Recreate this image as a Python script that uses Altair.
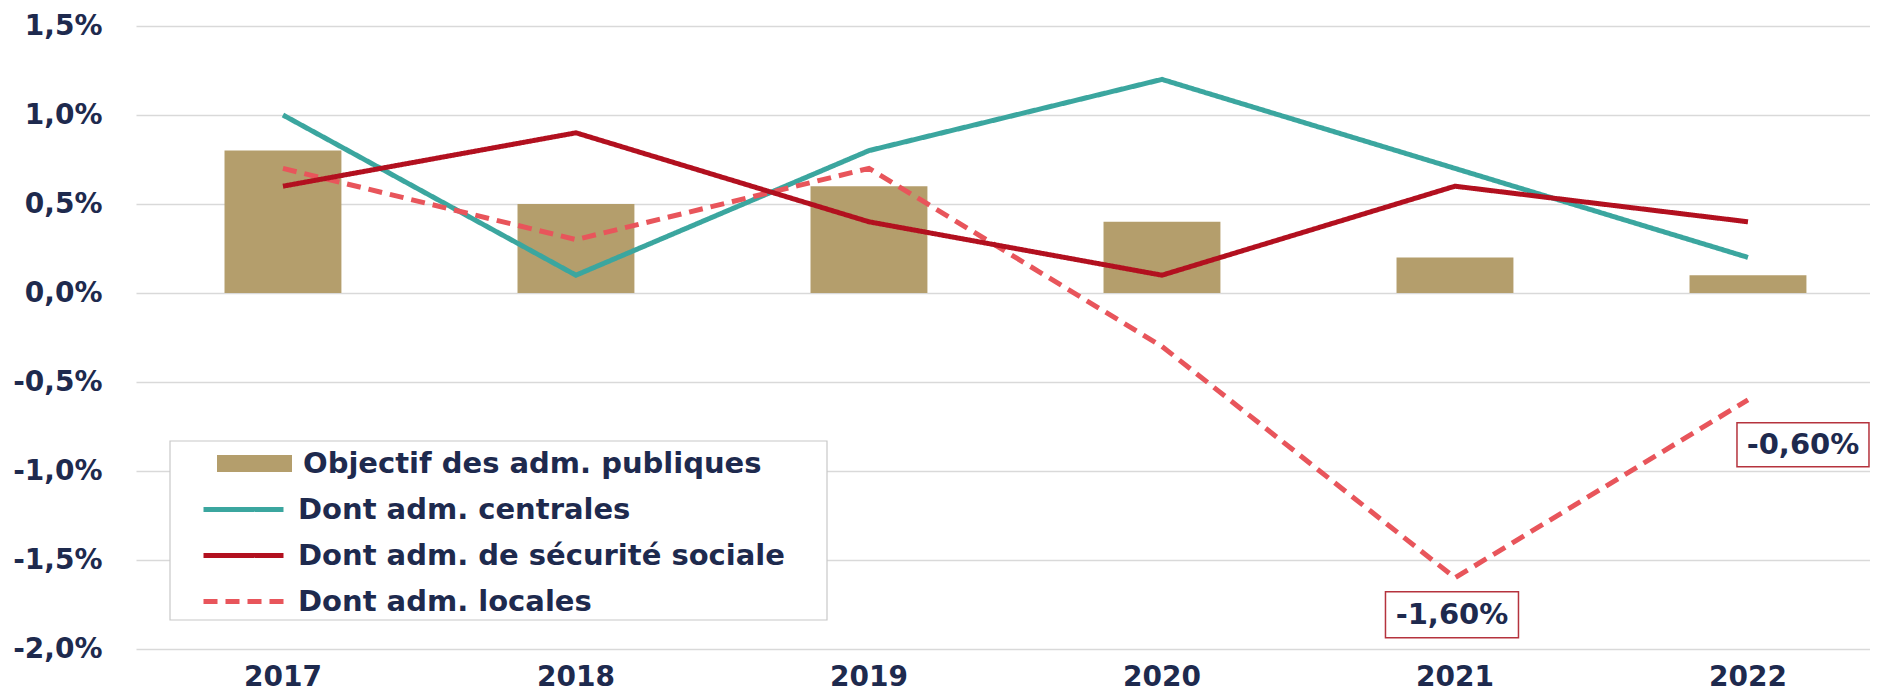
import altair as alt
import pandas as pd

# ---- data ----
years = ["2017", "2018", "2019", "2020", "2021", "2022"]
objectif = [0.8, 0.5, 0.6, 0.4, 0.2, 0.1]
centrales = [1.0, 0.1, 0.8, 1.2, 0.7, 0.2]
securite = [0.6, 0.9, 0.4, 0.1, 0.6, 0.4]
locales = [0.7, 0.3, 0.7, -0.3, -1.6, -0.6]

S_OBJ = "Objectif des adm. publiques"
S_CEN = "Dont adm. centrales"
S_SEC = "Dont adm. de sécurité sociale"
S_LOC = "Dont adm. locales"
line_series = [S_CEN, S_SEC, S_LOC]

ann_years = ["2021", "2022"]
ann_values = [-1.6, -0.6]
ann_labels = ["-1,60%", "-0,60%"]

y_ticks = [-2.0, -1.5, -1.0, -0.5, 0.0, 0.5, 1.0, 1.5]

# ---- styles ----
TAN = "#B49E6C"
TEAL = "#3BA69F"
DARKRED = "#B2101F"
LIGHTRED = "#E8555B"
NAVY = "#1E2A4E"
GRID = "#D9D9D9"
FONT = "DejaVu Sans"

bar_df = pd.DataFrame({"year": years, "value": objectif, "series": S_OBJ})
line_df = pd.concat([
    pd.DataFrame({"year": years, "value": centrales, "series": S_CEN}),
    pd.DataFrame({"year": years, "value": locales, "series": S_LOC}),
    pd.DataFrame({"year": years, "value": securite, "series": S_SEC}),
], ignore_index=True)
ann_df = pd.DataFrame({"year": ann_years, "value": ann_values, "label": ann_labels})

x_scale = alt.Scale(domain=years, paddingInner=0.601, paddingOuter=0.2595, align=0.582)
y_scale = alt.Scale(domain=[-2.0, 1.5], nice=False, zero=False)

x_enc = alt.X("year:N", scale=x_scale, sort=years,
              axis=alt.Axis(title=None, labelAngle=0, ticks=False, tickSize=0, domain=False,
                            grid=False, labelFont=FONT, labelFontSize=28, labelFontWeight="bold",
                            labelColor=NAVY, labelPadding=14))
y_enc = alt.Y("value:Q", scale=y_scale,
              axis=alt.Axis(title=None, values=y_ticks, ticks=False, tickSize=0, domain=False,
                            grid=True, gridColor=GRID, gridWidth=1.5,
                            labelExpr="replace(replace(format(datum.value, '.1f'), '.', ','), '\u2212', '-') + '%'",
                            labelFont=FONT, labelFontSize=28, labelFontWeight="bold",
                            labelColor=NAVY, labelPadding=34))

common_legend = dict(
    orient="none", title=None, padding=0,
    symbolSize=400, symbolStrokeWidth=5,
    labelFont=FONT, labelFontSize=29, labelFontWeight="bold", labelColor=NAVY,
    labelLimit=2000, rowPadding=16,
)

legend_bar = alt.Legend(legendX=104, legendY=423, labelOffset=34,
                        symbolType="M-3.5,-0.6H3.5V0.6H-3.5Z",
                        symbolStrokeColor=TAN, symbolFillColor=TAN, **common_legend)
legend_lines = alt.Legend(legendX=93, legendY=469, labelOffset=40,
                          symbolType="M-4,0H4", **common_legend)

# legend frame (decoration)
frame = alt.Chart(pd.DataFrame({"k": [0]})).mark_rect(
    fill="white", stroke="#C8C8C8", strokeWidth=1.2
).encode(x=alt.value(34), x2=alt.value(691), y=alt.value(415), y2=alt.value(594))

bars = alt.Chart(bar_df).mark_bar().encode(
    x=x_enc, y=y_enc,
    fill=alt.Fill("series:N", scale=alt.Scale(domain=[S_OBJ], range=[TAN]), legend=legend_bar),
)

lines = alt.Chart(line_df).mark_line(strokeWidth=5).encode(
    x=x_enc, y=y_enc,
    stroke=alt.Stroke("series:N", scale=alt.Scale(domain=line_series,
                                                  range=[TEAL, DARKRED, LIGHTRED]),
                      legend=legend_lines),
    strokeDash=alt.StrokeDash("series:N",
                              scale=alt.Scale(domain=line_series,
                                              range=[[1, 0], [1, 0], [14, 8]]),
                              legend=legend_lines),
)

ann_offsets = [(-3, 37, 133, 46), (55, 45, 132, 44)]
ann_layers = []
for i, (dx, dy, w, h) in enumerate(ann_offsets):
    sub = ann_df.iloc[[i]]
    half = (h / 2) / (w / 2)
    box = alt.Chart(sub).mark_point(
        shape=f"M-1,-{half:.3f}H1V{half:.3f}H-1Z", size=w * w, filled=True,
        fill="white", stroke="#B5333D", strokeWidth=1.5, opacity=1,
        xOffset=dx, yOffset=dy,
    ).encode(x=x_enc, y=y_enc)
    txt = alt.Chart(sub).mark_text(
        font=FONT, fontSize=29, fontWeight="bold", color=NAVY,
        align="center", baseline="middle", dx=dx, dy=dy,
    ).encode(x=x_enc, y=y_enc, text="label:N")
    ann_layers += [box, txt]

chart = alt.layer(bars, lines, frame, *ann_layers).properties(
    width=1734, height=623,
    padding={"left": 128, "top": 18, "right": 0, "bottom": 50},
    autosize=alt.AutoSizeParams(type="none"),
    background="white",
).resolve_scale(fill="independent", stroke="independent", strokeDash="independent"
).configure_view(stroke=None)

chart.save("out.html", embed_options={"renderer": "svg", "actions": False})
